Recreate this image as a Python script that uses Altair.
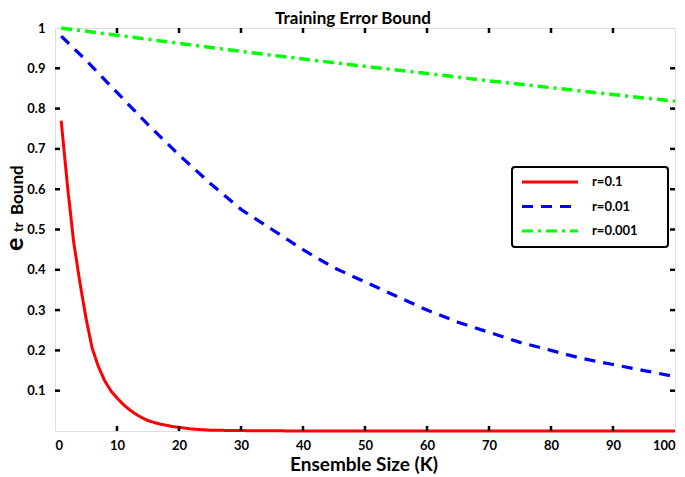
import altair as alt
import pandas as pd

FONT = "Lato"

# ---- data ----
SERIES = ["r=0.1", "r=0.01", "r=0.001"]
COLORS = ["#ff0000", "#0000ff", "#00ff00"]

K_RED = [1, 2, 3, 4, 5, 6, 7, 8, 9, 10, 11, 12, 13, 14, 15, 16, 17, 18, 19, 20,
         21, 22, 23, 24, 25, 30, 40, 50, 60, 70, 80, 90, 100]
V_RED = [0.77, 0.61, 0.47, 0.37, 0.28, 0.205, 0.16, 0.125, 0.10, 0.082, 0.066,
         0.053, 0.042, 0.033, 0.026, 0.021, 0.017, 0.014, 0.011, 0.009, 0.007,
         0.005, 0.004, 0.003, 0.002, 0.001, 0.0, 0.0, 0.0, 0.0, 0.0, 0.0, 0.0]

K_BLUE = [1, 5, 10, 15, 20, 25, 30, 35, 40, 45, 50, 55, 60, 65, 70, 75, 80, 85, 90, 95, 100]
V_BLUE = [0.98, 0.92, 0.84, 0.76, 0.685, 0.615, 0.55, 0.50, 0.45, 0.405, 0.37,
          0.335, 0.30, 0.27, 0.245, 0.22, 0.20, 0.18, 0.165, 0.15, 0.135]

K_GREEN = [1, 10, 20, 30, 40, 50, 60, 70, 80, 90, 100]
V_GREEN = [1.0, 0.982, 0.962, 0.942, 0.923, 0.905, 0.887, 0.869, 0.852, 0.835, 0.818]

X_TICKS = [0, 10, 20, 30, 40, 50, 60, 70, 80, 90, 100]
Y_TICKS = [0.1, 0.2, 0.3, 0.4, 0.5, 0.6, 0.7, 0.8, 0.9, 1.0]

TITLE = "Training Error Bound"
X_TITLE = "Ensemble Size (K)"

# ---- styles ----
DASHES = [[1, 0], [11, 8], [11, 5, 3, 5]]
WIDTHS = [3, 3.5, 3.5]
W, H = 620, 403

rows = []
for name, ks, vs in zip(SERIES, [K_RED, K_BLUE, K_GREEN], [V_RED, V_BLUE, V_GREEN]):
    for k, v in zip(ks, vs):
        rows.append({"K": k, "value": v, "series": name})
df = pd.DataFrame(rows)

xscale = alt.Scale(domain=[0, 100], nice=False, zero=False)
yscale = alt.Scale(domain=[0, 1], nice=False)

x_enc = alt.X("K:Q", scale=xscale, axis=alt.Axis(
    values=X_TICKS, grid=False, domain=False, ticks=False, tickSize=0,
    labelFont=FONT, labelFontSize=13, labelFontWeight="bold", labelColor="black",
    labelBaseline="alphabetic", labelPadding=18, title=None))
y_enc = alt.Y("value:Q", scale=yscale, axis=alt.Axis(
    values=Y_TICKS, format=".1~f", grid=False, domain=False, ticks=False, tickSize=0,
    labelFont=FONT, labelFontSize=13, labelFontWeight="bold", labelColor="black",
    labelPadding=10, title=None))

lines = alt.Chart(df).mark_line(clip=False).encode(
    x=x_enc,
    y=y_enc,
    color=alt.Color("series:N", scale=alt.Scale(domain=SERIES, range=COLORS), legend=None),
    strokeDash=alt.StrokeDash("series:N", scale=alt.Scale(domain=SERIES, range=DASHES), legend=None),
    strokeWidth=alt.StrokeWidth("series:N", scale=alt.Scale(domain=SERIES, range=WIDTHS), legend=None),
)

xt = pd.DataFrame({"K": X_TICKS[1:-1]})
yt = pd.DataFrame({"value": Y_TICKS[:-1]})
tick_style = dict(color="black", strokeWidth=2.5)
t_bottom = alt.Chart(xt).mark_rule(**tick_style).encode(x=x_enc, y=alt.value(H), y2=alt.value(H - 5))
t_top = alt.Chart(xt).mark_rule(**tick_style).encode(x=x_enc, y=alt.value(0), y2=alt.value(5))
t_left = alt.Chart(yt).mark_rule(**tick_style).encode(y=y_enc, x=alt.value(0), x2=alt.value(5))
t_right = alt.Chart(yt).mark_rule(**tick_style).encode(y=y_enc, x=alt.value(W - 5), x2=alt.value(W))

one = pd.DataFrame({"a": [0]})

# legend (box + entries)
leg_box = alt.Chart(one).mark_rect(fill="white", stroke="black", strokeWidth=2, cornerRadius=3).encode(
    x=alt.value(457), x2=alt.value(613), y=alt.value(139), y2=alt.value(219))
leg_layers = [leg_box]
for i, name in enumerate(SERIES):
    yy = 154 + 24.5 * i
    leg_layers.append(alt.Chart(one).mark_rule(color=COLORS[i], strokeDash=DASHES[i], strokeWidth=3).encode(
        x=alt.value(467), x2=alt.value(523), y=alt.value(yy)))
    leg_layers.append(alt.Chart(one).mark_text(align="left", baseline="middle", font=FONT, fontSize=13,
                                               fontWeight="bold", color="black").encode(
        x=alt.value(537), y=alt.value(yy), text=alt.value(name)))

# titles
txt = dict(font=FONT, fontWeight="bold", color="black")
ytitle_e = alt.Chart(one).mark_text(angle=270, align="left", baseline="alphabetic", fontSize=25, **txt).encode(
    x=alt.value(-32), y=alt.value(223), text=alt.value("e"))
ytitle_tr = alt.Chart(one).mark_text(angle=270, align="left", baseline="alphabetic", fontSize=13, **txt).encode(
    x=alt.value(-32), y=alt.value(204), text=alt.value("tr"))
ytitle_b = alt.Chart(one).mark_text(angle=270, align="left", baseline="alphabetic", fontSize=17, **txt).encode(
    x=alt.value(-32), y=alt.value(187), text=alt.value("Bound"))
xtitle = alt.Chart(one).mark_text(align="center", baseline="alphabetic", fontSize=19, **txt).encode(
    x=alt.value(309), y=alt.value(H + 40), text=alt.value(X_TITLE))
title = alt.Chart(one).mark_text(align="center", baseline="alphabetic", fontSize=17, **txt).encode(
    x=alt.value(298), y=alt.value(-4), text=alt.value(TITLE))

chart = alt.layer(
    lines, t_bottom, t_top, t_left, t_right, *leg_layers,
    ytitle_e, ytitle_tr, ytitle_b, xtitle, title
).properties(
    width=W, height=H,
    padding={"left": 47, "top": 20, "right": 2, "bottom": 48},
    autosize=alt.AutoSizeParams(type="none"),
).configure_view(stroke="black", strokeWidth=3).configure(background="white")

chart.save("out.html", embed_options={"renderer": "svg", "actions": False})
